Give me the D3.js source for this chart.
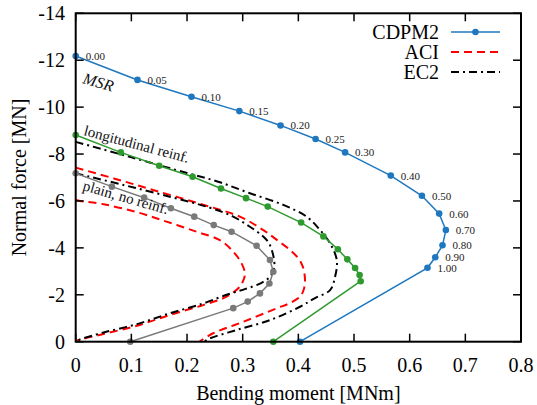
<!DOCTYPE html>
<html><head><meta charset="utf-8">
<script src="https://cdn.jsdelivr.net/npm/d3@7"></script>
<style>
html,body{margin:0;padding:0;background:#fff;}
text{font-family:"Liberation Serif","Tinos","Nimbus Roman","DejaVu Serif",serif;}
</style>
</head><body>
<svg id="c" width="537" height="405"></svg>
<script>
// ---- data ----
const xTicks = [0, 0.1, 0.2, 0.3, 0.4, 0.5, 0.6, 0.7, 0.8];
const xTickLabels = ["0", "0.1", "0.2", "0.3", "0.4", "0.5", "0.6", "0.7", "0.8"];
const yTicks = [0, -2, -4, -6, -8, -10, -12, -14];
const yTickLabels = ["0", "-2", "-4", "-6", "-8", "-10", "-12", "-14"];

const cdpm2M = [0, 0.111, 0.208, 0.294, 0.368, 0.431, 0.484, 0.566, 0.622, 0.653, 0.665, 0.659, 0.646, 0.632, 0.403];
const cdpm2N = [-12.18, -11.16, -10.44, -9.83, -9.22, -8.64, -8.07, -7.08, -6.22, -5.46, -4.76, -4.11, -3.60, -3.15, 0];
const cdpm2Labels = ["0.00", "0.05", "0.10", "0.15", "0.20", "0.25", "0.30", "0.40", "0.50", "0.60", "0.70", "0.80", "0.90", "1.00", ""];

const longM = [0, 0.081, 0.150, 0.210, 0.261, 0.306, 0.345, 0.405, 0.445, 0.471, 0.488, 0.502, 0.510, 0.512, 0.355];
const longN = [-8.81, -8.07, -7.50, -7.03, -6.53, -6.12, -5.76, -5.08, -4.49, -3.94, -3.51, -3.14, -2.84, -2.58, 0];

const plainM = [0, 0.065, 0.123, 0.171, 0.213, 0.248, 0.280, 0.325, 0.349, 0.355, 0.348, 0.331, 0.309, 0.283, 0.098];
const plainN = [-7.18, -6.61, -6.14, -5.69, -5.33, -4.97, -4.69, -4.09, -3.48, -2.98, -2.48, -2.06, -1.71, -1.43, 0];

const aciOuterM = [0, 0.070, 0.139, 0.220, 0.295, 0.337, 0.362, 0.385, 0.400, 0.408, 0.412, 0.410, 0.403, 0.385, 0.361, 0.301, 0.247, 0.222];
const aciOuterN = [-7.42, -6.95, -6.47, -5.90, -5.33, -4.76, -4.33, -3.91, -3.55, -3.20, -2.63, -2.25, -1.92, -1.65, -1.42, -0.85, -0.36, 0];

const aciInnerM = [0, 0.008, 0.050, 0.110, 0.163, 0.217, 0.259, 0.283, 0.298, 0.304, 0.301, 0.293, 0.271, 0.229, 0.169, 0.110, 0.050, 0.002, 0];
const aciInnerN = [-6.04, -6.00, -5.86, -5.52, -5.12, -4.69, -4.33, -3.84, -3.34, -2.91, -2.60, -2.30, -1.92, -1.56, -1.14, -0.68, -0.33, -0.04, 0];

const ec2OuterM = [0, 0.100, 0.200, 0.256, 0.313, 0.373, 0.415, 0.439, 0.457, 0.469, 0.466, 0.457, 0.430, 0.403, 0.349, 0.289, 0.241, 0.230];
const ec2OuterN = [-8.52, -7.86, -7.19, -6.82, -6.33, -5.83, -5.33, -4.76, -4.19, -3.48, -2.77, -2.20, -1.86, -1.49, -0.92, -0.50, -0.14, 0];

const ec2InnerM = [0, 0.086, 0.169, 0.240, 0.283, 0.313, 0.337, 0.349, 0.357, 0.350, 0.333, 0.305, 0.271, 0.229, 0.169, 0.110, 0.050, 0.008, 0];
const ec2InnerN = [-7.18, -6.68, -6.18, -5.72, -5.33, -4.90, -4.48, -4.12, -3.20, -2.80, -2.50, -2.25, -2.00, -1.63, -1.21, -0.75, -0.39, -0.10, 0];

const legendNames = ["CDPM2", "ACI", "EC2"];

// ---- drawing ----
const FONT = "'Liberation Serif', Tinos, 'Nimbus Roman', 'DejaVu Serif', serif";
const svg = d3.select("#c");
const L = 75.7, R = 521, T = 13.3, B = 341.7;
const x = d3.scaleLinear().domain([0, 0.8]).range([L, R]);
const y = d3.scaleLinear().domain([0, -14]).range([B, T]);

const blue = "#1f78bf", green = "#2f9a2f", gray = "#7a7a7a", red = "#ff0000";

const zip = (a, b) => a.map((v, i) => [v, b[i]]);
const line = d3.line().x(d => x(d[0])).y(d => y(d[1]));
const smooth = d3.line().x(d => x(d[0])).y(d => y(d[1])).curve(d3.curveCatmullRom.alpha(0.5));

const plot = svg.append("g");

// design curves
const dashRed = "8,5";
const dashDot = "8,4,2,4";
function designCurve(M, N, color, dash) {
  plot.append("path").attr("d", smooth(zip(M, N)))
    .attr("fill", "none").attr("stroke", color).attr("stroke-width", 2)
    .attr("stroke-dasharray", dash);
}
designCurve(aciOuterM, aciOuterN, red, dashRed);
designCurve(aciInnerM, aciInnerN, red, dashRed);
designCurve(ec2OuterM, ec2OuterN, "#000", dashDot);
designCurve(ec2InnerM, ec2InnerN, "#000", dashDot);

function series(M, N, color) {
  const pts = zip(M, N);
  plot.append("path").attr("d", line(pts))
    .attr("fill", "none").attr("stroke", color).attr("stroke-width", 1.5);
  plot.selectAll(null).data(pts).enter().append("circle")
    .attr("cx", d => x(d[0])).attr("cy", d => y(d[1])).attr("r", 3.3)
    .attr("fill", color);
}
series(plainM, plainN, gray);
series(longM, longN, green);
series(cdpm2M, cdpm2N, blue);

// point labels
plot.selectAll(null).data(zip(cdpm2M, cdpm2N).map((d, i) => [d[0], d[1], cdpm2Labels[i]]))
  .enter().append("text")
  .attr("x", d => x(d[0]) + 10).attr("y", d => y(d[1]) + 4)
  .attr("font-family", FONT)
  .attr("font-size", 11).attr("fill", "#222")
  .text(d => d[2]);

// annotations
svg.append("text").attr("transform", "translate(82,83) rotate(16)").attr("font-family", FONT)
  .attr("font-size", 16).attr("font-style", "italic").attr("fill", "#111").text("MSR");
svg.append("text").attr("transform", "translate(83,135) rotate(15)").attr("font-family", FONT)
  .attr("font-size", 15).attr("fill", "#111").text("longitudinal reinf.");
svg.append("text").attr("transform", "translate(82,190) rotate(16)").attr("font-family", FONT)
  .attr("font-size", 15).attr("fill", "#111").text("plain, no reinf.");

// frame and ticks
const tl = 8;
const ax = svg.append("g").attr("stroke", "#000").attr("stroke-width", 1.5);
xTicks.forEach(t => {
  ax.append("line").attr("x1", x(t)).attr("x2", x(t)).attr("y1", B).attr("y2", B - tl);
  ax.append("line").attr("x1", x(t)).attr("x2", x(t)).attr("y1", T).attr("y2", T + tl);
});
yTicks.forEach(t => {
  ax.append("line").attr("x1", L).attr("x2", L + tl).attr("y1", y(t)).attr("y2", y(t));
  ax.append("line").attr("x1", R).attr("x2", R - tl).attr("y1", y(t)).attr("y2", y(t));
});
svg.append("rect").attr("x", L).attr("y", T).attr("width", R - L).attr("height", B - T)
  .attr("fill", "none").attr("stroke", "#000").attr("stroke-width", 2);

// tick labels
svg.selectAll(null).data(xTicks).enter().append("text")
  .attr("x", d => x(d)).attr("y", 372).attr("text-anchor", "middle").attr("font-family", FONT)
  .attr("font-size", 20).text((d, i) => xTickLabels[i]);
svg.selectAll(null).data(yTicks).enter().append("text")
  .attr("x", 65).attr("y", d => y(d) + 6.8).attr("text-anchor", "end").attr("font-family", FONT)
  .attr("font-size", 20).text((d, i) => yTickLabels[i]);

// axis titles
svg.append("text").attr("x", (L + R) / 2).attr("y", 400).attr("text-anchor", "middle").attr("font-family", FONT)
  .attr("font-size", 20).text("Bending moment [MNm]");
svg.append("text").attr("transform", `translate(26,${(T + B) / 2}) rotate(-90)`).attr("font-family", FONT)
  .attr("text-anchor", "middle").attr("font-size", 20).text("Normal force [MN]");

// legend
const lg = svg.append("g");
const legY = [32, 52, 72];
lg.selectAll(null).data(legendNames).enter().append("text")
  .attr("x", 439).attr("y", (d, i) => legY[i] + 7).attr("text-anchor", "end").attr("font-family", FONT)
  .attr("font-size", 20).text(d => d);
lg.append("line").attr("x1", 451).attr("x2", 500).attr("y1", legY[0]).attr("y2", legY[0])
  .attr("stroke", blue).attr("stroke-width", 1.5);
lg.append("circle").attr("cx", 475.5).attr("cy", legY[0]).attr("r", 3.3).attr("fill", blue);
lg.append("line").attr("x1", 451).attr("x2", 500).attr("y1", legY[1]).attr("y2", legY[1])
  .attr("stroke", red).attr("stroke-width", 2).attr("stroke-dasharray", dashRed);
lg.append("line").attr("x1", 451).attr("x2", 500).attr("y1", legY[2]).attr("y2", legY[2])
  .attr("stroke", "#000").attr("stroke-width", 2).attr("stroke-dasharray", dashDot);
</script>
</body></html>
